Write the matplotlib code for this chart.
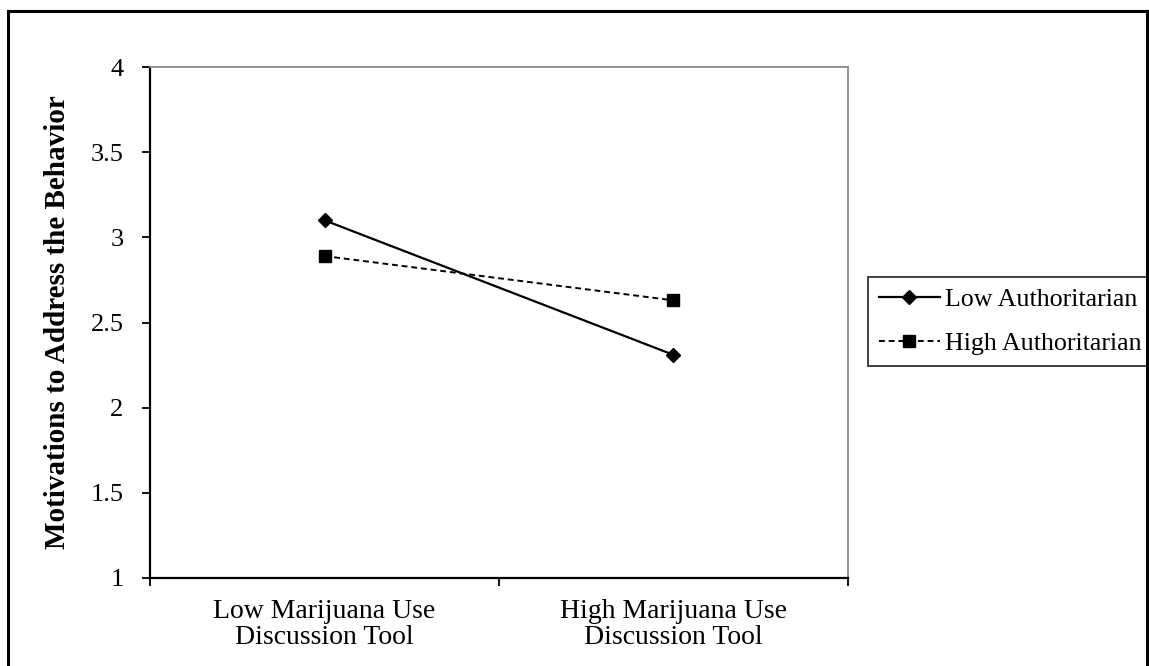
import matplotlib.pyplot as plt
from matplotlib.patches import Rectangle

plt.rcParams['font.family'] = ['Liberation Serif', 'DejaVu Serif']

categories = ['Low Marijuana Use\nDiscussion Tool', 'High Marijuana Use\nDiscussion Tool']
low_auth = [3.10, 2.31]
high_auth = [2.89, 2.63]
yticks = [1, 1.5, 2, 2.5, 3, 3.5, 4]

fig = plt.figure(figsize=(11.49, 6.66), dpi=100)
ax = fig.add_axes([150/1149, 1 - 578/666, 698/1149, 511/666])

xpos = [0.5, 1.5]
ax.plot(xpos, low_auth, color='black', lw=1.6, marker='D', ms=7.5,
        label='Low Authoritarian')
ax.plot(xpos, high_auth, color='black', lw=1.4, ls=(0, (3, 2)), marker='s', ms=8.5,
        label='High Authoritarian')

ax.set_xlim(0, 2)
ax.set_ylim(1, 4)
ax.set_yticks(yticks)
ax.set_yticklabels([f'{v:g}' for v in yticks])
ax.set_xticks([0, 1, 2])
ax.set_xticklabels(['', '', ''])
ax.set_xticks(xpos, minor=True)
ax.set_xticklabels(categories, minor=True, linespacing=1.05)
ax.tick_params(axis='x', which='minor', length=0, pad=15, labelsize=20)
ax.tick_params(axis='x', which='major', direction='out', length=6, width=1.3)
ax.tick_params(axis='y', direction='out', length=6, width=1.3, labelsize=19, pad=13)

for s in ['left', 'bottom']:
    ax.spines[s].set_linewidth(1.6)
    ax.spines[s].set_color('black')
for s in ['top', 'right']:
    ax.spines[s].set_linewidth(1.3)
    ax.spines[s].set_color('#888888')

ax.set_ylabel('Motivations to Address the Behavior', fontsize=21, fontweight='bold', labelpad=14)

leg = ax.legend(loc='center left', bbox_to_anchor=(868/1149, 1 - 321.5/666),
                bbox_transform=fig.transFigure, fontsize=18.7,
                frameon=True, fancybox=False, edgecolor='black', handlelength=2.35,
                handletextpad=0.2, borderpad=0.42, labelspacing=0.8, borderaxespad=0)
leg.get_frame().set_linewidth(1.3)

fig.patches.append(Rectangle((8/1149, -0.1), 1139/1149, 1.1 - 11/666,
                             transform=fig.transFigure, fill=False,
                             edgecolor='black', lw=2.2))

fig.savefig('out.png', dpi=100)
